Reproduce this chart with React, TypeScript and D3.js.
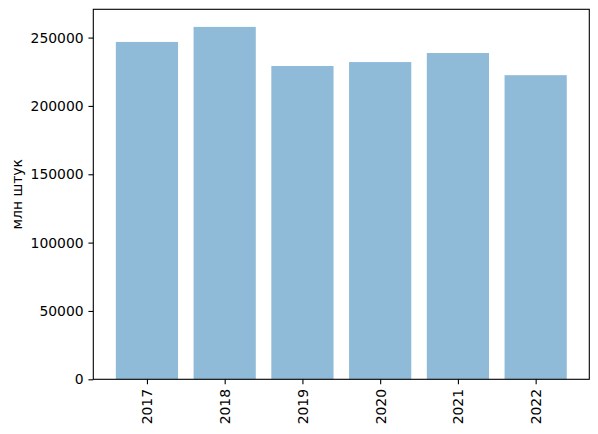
import React, { useRef, useEffect } from 'react';
import * as d3 from 'd3';

const years = ['2017', '2018', '2019', '2020', '2021', '2022'];
const values = [246800, 257800, 229200, 232100, 238700, 222500];
const yTicks = [0, 50000, 100000, 150000, 200000, 250000];
const yLabel = 'млн штук';

const App = () => {
  const svgRef = useRef<SVGSVGElement>(null);

  useEffect(() => {
    if (!svgRef.current) return;
    const width = 598;
    const height = 434;
    const margin = { top: 9.3, right: 8.7, bottom: 54.7, left: 93.3 };
    const innerWidth = width - margin.left - margin.right;
    const innerHeight = height - margin.top - margin.bottom;
    const font = 'DejaVu Sans, sans-serif';

    const svg = d3.select(svgRef.current);
    svg.selectAll('*').remove();

    const g = svg.append('g').attr('transform', `translate(${margin.left},${margin.top})`);

    // matplotlib-like x: bars of width 0.8 with 5% margins
    const pad = (5.8) * 0.05;
    const x = d3.scaleLinear().domain([-0.4 - pad, years.length - 1 + 0.4 + pad]).range([0, innerWidth]);
    const yMax = d3.max(values)! * 1.05;
    const y = d3.scaleLinear().domain([0, yMax]).range([innerHeight, 0]);

    g.selectAll('.bar')
      .data(values)
      .enter()
      .append('rect')
      .attr('class', 'bar')
      .attr('x', (d, i) => x(i - 0.4))
      .attr('width', x(0.8) - x(0))
      .attr('y', d => y(d))
      .attr('height', d => y(0) - y(d))
      .attr('fill', '#1f77b4')
      .attr('fill-opacity', 0.5);

    // y axis
    const yAxis = g.append('g')
      .call(d3.axisLeft(y).tickValues(yTicks).tickFormat(d3.format('d')).tickSize(4.86).tickPadding(4.86));
    yAxis.select('.domain').remove();
    yAxis.selectAll('text').attr('font-family', font).attr('font-size', 13.9).attr('fill', '#000');
    yAxis.selectAll('line').attr('stroke', '#000').attr('stroke-width', 1.1);

    // x axis
    const xAxis = g.append('g')
      .attr('transform', `translate(0,${innerHeight})`)
      .call(d3.axisBottom(x).tickValues(years.map((_, i) => i)).tickFormat((d: any) => years[d]).tickSize(4.86).tickPadding(4.86));
    xAxis.select('.domain').remove();
    xAxis.selectAll('line').attr('stroke', '#000').attr('stroke-width', 1.1);
    xAxis.selectAll('text')
      .attr('font-family', font)
      .attr('font-size', 13.9)
      .attr('fill', '#000')
      .attr('transform', 'rotate(-90)')
      .attr('x', -9.7)
      .attr('y', 0)
      .attr('dy', '0.35em')
      .attr('text-anchor', 'end');

    // frame
    g.append('rect')
      .attr('width', innerWidth)
      .attr('height', innerHeight)
      .attr('fill', 'none')
      .attr('stroke', '#000')
      .attr('stroke-width', 1.1);

    svg.append('text')
      .attr('transform', 'rotate(-90)')
      .attr('x', -(margin.top + innerHeight / 2))
      .attr('y', 21.5)
      .attr('text-anchor', 'middle')
      .attr('font-family', font)
      .attr('font-size', 13.9)
      .attr('fill', '#000')
      .text(yLabel);
  }, []);

  return (
    <svg
      ref={svgRef}
      width={598}
      height={434}
      style={{ position: 'absolute', left: 0, top: 0, background: '#fff' }}
    />
  );
};

export default App;
